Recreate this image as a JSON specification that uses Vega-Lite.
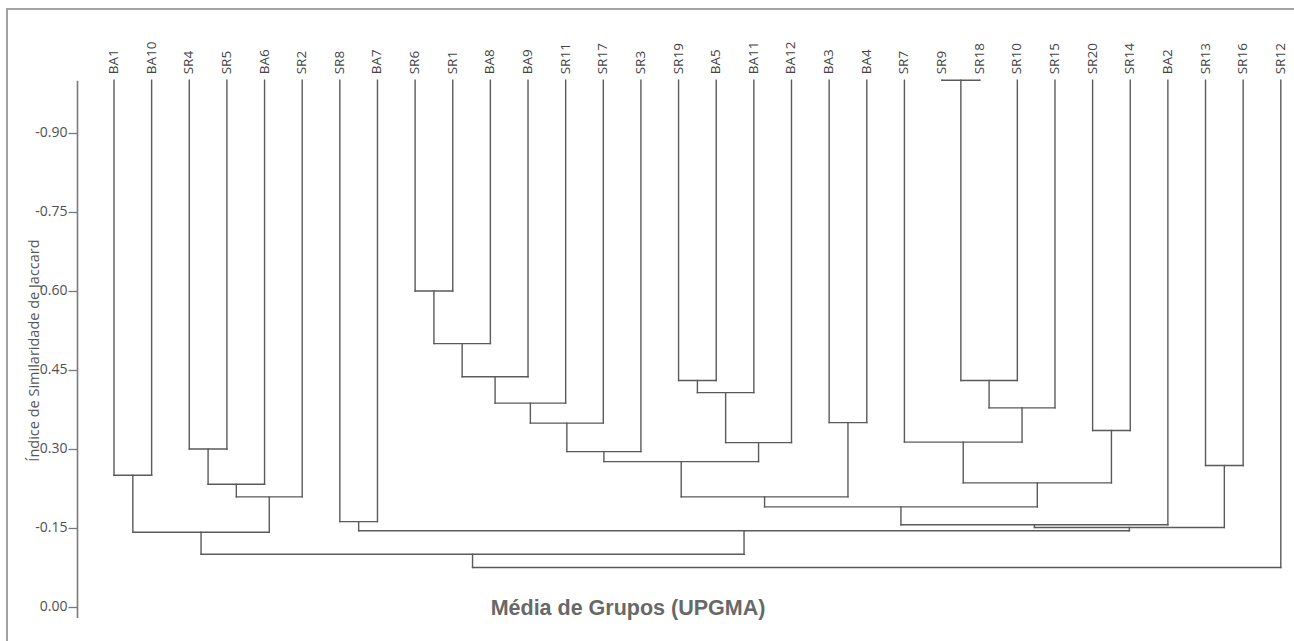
{
  "$schema": "https://vega.github.io/schema/vega-lite/v6.json",
  "width": 1292,
  "height": 637,
  "autosize": {"type": "none"},
  "padding": {"left": 7, "top": 9, "right": -5, "bottom": -5},
  "background": "white",
  "config": {"view": {"stroke": "#a3a3a3", "strokeWidth": 2}, "font": "Open Sans"},
  "title": {
    "text": "Média de Grupos (UPGMA)",
    "orient": "bottom",
    "anchor": "middle",
    "frame": "group",
    "offset": -37,
    "dx": -25,
    "baseline": "middle",
    "font": "Liberation Sans",
    "fontWeight": "bold",
    "fontSize": 21.5,
    "color": "#686868"
  },
  "datasets": {
    "leaves": [
      {"name": "BA1", "idx": 0}, {"name": "BA10", "idx": 1}, {"name": "SR4", "idx": 2}, {"name": "SR5", "idx": 3},
      {"name": "BA6", "idx": 4}, {"name": "SR2", "idx": 5}, {"name": "SR8", "idx": 6}, {"name": "BA7", "idx": 7},
      {"name": "SR6", "idx": 8}, {"name": "SR1", "idx": 9}, {"name": "BA8", "idx": 10}, {"name": "BA9", "idx": 11},
      {"name": "SR11", "idx": 12}, {"name": "SR17", "idx": 13}, {"name": "SR3", "idx": 14}, {"name": "SR19", "idx": 15},
      {"name": "BA5", "idx": 16}, {"name": "BA11", "idx": 17}, {"name": "BA12", "idx": 18}, {"name": "BA3", "idx": 19},
      {"name": "BA4", "idx": 20}, {"name": "SR7", "idx": 21}, {"name": "SR9", "idx": 22}, {"name": "SR18", "idx": 23},
      {"name": "SR10", "idx": 24}, {"name": "SR15", "idx": 25}, {"name": "SR20", "idx": 26}, {"name": "SR14", "idx": 27},
      {"name": "BA2", "idx": 28}, {"name": "SR13", "idx": 29}, {"name": "SR16", "idx": 30}, {"name": "SR12", "idx": 31}
    ],
    "merges": [
      {"lx": 0, "lh": 1, "rx": 1, "rh": 1, "h": 0.25},
      {"lx": 2, "lh": 1, "rx": 3, "rh": 1, "h": 0.30},
      {"lx": 2.5, "lh": 0.30, "rx": 4, "rh": 1, "h": 0.233},
      {"lx": 3.25, "lh": 0.233, "rx": 5, "rh": 1, "h": 0.209},
      {"lx": 0.5, "lh": 0.25, "rx": 4.125, "rh": 0.209, "h": 0.142},
      {"lx": 6, "lh": 1, "rx": 7, "rh": 1, "h": 0.162},
      {"lx": 8, "lh": 1, "rx": 9, "rh": 1, "h": 0.60},
      {"lx": 8.5, "lh": 0.60, "rx": 10, "rh": 1, "h": 0.50},
      {"lx": 9.25, "lh": 0.50, "rx": 11, "rh": 1, "h": 0.437},
      {"lx": 10.125, "lh": 0.437, "rx": 12, "rh": 1, "h": 0.387},
      {"lx": 11.0625, "lh": 0.387, "rx": 13, "rh": 1, "h": 0.349},
      {"lx": 12.031, "lh": 0.349, "rx": 14, "rh": 1, "h": 0.295},
      {"lx": 15, "lh": 1, "rx": 16, "rh": 1, "h": 0.43},
      {"lx": 15.5, "lh": 0.43, "rx": 17, "rh": 1, "h": 0.407},
      {"lx": 16.25, "lh": 0.407, "rx": 18, "rh": 1, "h": 0.312},
      {"lx": 13.016, "lh": 0.295, "rx": 17.125, "rh": 0.312, "h": 0.276},
      {"lx": 19, "lh": 1, "rx": 20, "rh": 1, "h": 0.35},
      {"lx": 15.07, "lh": 0.276, "rx": 19.5, "rh": 0.35, "h": 0.209},
      {"lx": 22, "lh": 1, "rx": 23, "rh": 1, "h": 1.0},
      {"lx": 22.5, "lh": 1.0, "rx": 24, "rh": 1, "h": 0.43},
      {"lx": 23.25, "lh": 0.43, "rx": 25, "rh": 1, "h": 0.378},
      {"lx": 21, "lh": 1, "rx": 24.125, "rh": 0.378, "h": 0.313},
      {"lx": 26, "lh": 1, "rx": 27, "rh": 1, "h": 0.335},
      {"lx": 22.5625, "lh": 0.313, "rx": 26.5, "rh": 0.335, "h": 0.2356},
      {"lx": 17.285, "lh": 0.209, "rx": 24.531, "rh": 0.2356, "h": 0.19},
      {"lx": 20.908, "lh": 0.19, "rx": 28, "rh": 1, "h": 0.156},
      {"lx": 29, "lh": 1, "rx": 30, "rh": 1, "h": 0.2686},
      {"lx": 24.454, "lh": 0.156, "rx": 29.5, "rh": 0.2686, "h": 0.151},
      {"lx": 6.5, "lh": 0.162, "rx": 26.977, "rh": 0.151, "h": 0.1448},
      {"lx": 2.3125, "lh": 0.142, "rx": 16.739, "rh": 0.1448, "h": 0.10},
      {"lx": 9.526, "lh": 0.10, "rx": 31, "rh": 1, "h": 0.075}
    ]
  },
  "layer": [
    {
      "data": {"name": "merges"},
      "mark": {"type": "rule", "color": "#5a5a5a", "strokeWidth": 1.4, "strokeCap": "square"},
      "encoding": {
        "x": {"field": "lx", "type": "quantitative", "scale": {"domain": [0, 31], "range": [107, 1273.8], "nice": false, "zero": false}, "axis": null},
        "x2": {"field": "rx"},
        "y": {
          "field": "h", "type": "quantitative",
          "title": "Índice de Similaridade de Jaccard",
          "scale": {"domain": [-0.02, 1], "range": [608.5, 71.3], "nice": false, "zero": false},
          "axis": {
            "orient": "left",
            "offset": -70,
            "values": [0, 0.15, 0.3, 0.45, 0.6, 0.75, 0.9],
            "labelExpr": "datum.value == 0 ? '0.00' : ((datum.value > 0.29 && datum.value < 0.61) ? format(datum.value, '.2f') : '-' + format(datum.value, '.2f'))",
            "grid": false,
            "domainColor": "#7a7a7a",
            "domainWidth": 1.6,
            "tickColor": "#7a7a7a",
            "tickWidth": 1.3,
            "tickSize": 9,
            "labelPadding": 1,
            "labelFont": "Open Sans",
            "labelFontSize": 14,
            "labelColor": "#505050",
            "labelFlush": false,
            "labelOverlap": false,
            "titleFont": "Open Sans",
            "titleFontSize": 14.5,
            "titleFontWeight": "normal",
            "titleColor": "#555555",
            "titleAngle": -90,
            "titleX": -43,
            "titleY": 341,
            "titleAlign": "center",
            "titleBaseline": "middle"
          }
        }
      }
    },
    {
      "data": {"name": "merges"},
      "mark": {"type": "rule", "color": "#5a5a5a", "strokeWidth": 1.4, "strokeCap": "square"},
      "encoding": {
        "x": {"field": "lx", "type": "quantitative"},
        "y": {"field": "lh", "type": "quantitative", "title": "Índice de Similaridade de Jaccard"},
        "y2": {"field": "h"}
      }
    },
    {
      "data": {"name": "merges"},
      "mark": {"type": "rule", "color": "#5a5a5a", "strokeWidth": 1.4, "strokeCap": "square"},
      "encoding": {
        "x": {"field": "rx", "type": "quantitative"},
        "y": {"field": "rh", "type": "quantitative", "title": "Índice de Similaridade de Jaccard"},
        "y2": {"field": "h"}
      }
    },
    {
      "data": {"name": "leaves"},
      "mark": {"type": "text", "angle": 270, "align": "left", "baseline": "middle", "dx": 6, "font": "Open Sans", "fontSize": 13.5, "color": "#444444"},
      "encoding": {
        "x": {"field": "idx", "type": "quantitative"},
        "y": {"datum": 1, "type": "quantitative"},
        "text": {"field": "name"}
      }
    }
  ]
}
